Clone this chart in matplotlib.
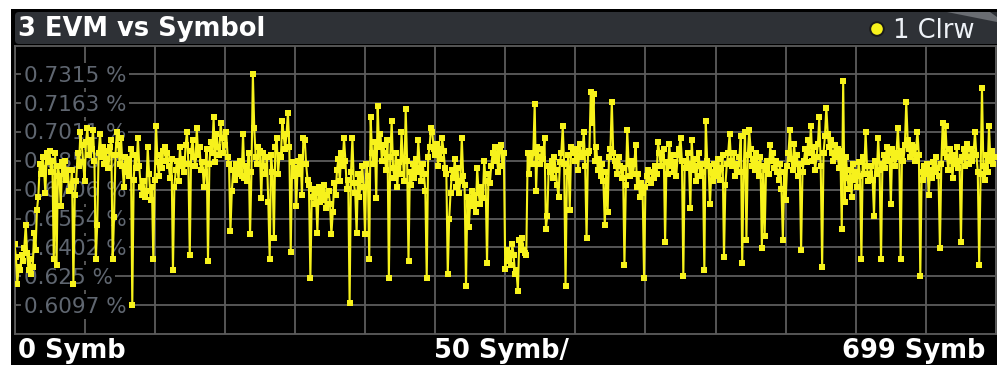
import matplotlib
matplotlib.use("Agg")
import matplotlib.pyplot as plt
import matplotlib.transforms as mtransforms
from matplotlib.patches import Rectangle, FancyBboxPatch, Circle, Polygon

# ---- chart data -------------------------------------------------------------
title = "3 EVM vs Symbol"
trace_label = "1 Clrw"
x_labels = ["0 Symb", "50 Symb/", "699 Symb"]
symbols_per_div = 50
n_divs = 14

y_tick_values = [0.6097, 0.6250, 0.6402, 0.6554, 0.6706, 0.6858, 0.7011, 0.7163, 0.7315]
y_tick_labels = ["0.6097 %", "0.625 %", "0.6402 %", "0.6554 %", "0.6706 %",
                 "0.6858 %", "0.7011 %", "0.7163 %", "0.7315 %"]
y_min, y_max = 0.59448, 0.74672

# EVM per symbol (percent), symbols 0..699
evm = [
    0.642, 0.635, 0.621, 0.630, 0.628, 0.636, 0.633, 0.640, 0.652, 0.637,
    0.628, 0.634, 0.626, 0.630, 0.648, 0.639, 0.660, 0.667, 0.684, 0.679,
    0.688, 0.682, 0.669, 0.690, 0.685, 0.691, 0.680, 0.686, 0.634, 0.690,
    0.631, 0.683, 0.678, 0.662, 0.685, 0.679, 0.686, 0.676, 0.681, 0.670,
    0.672, 0.681, 0.621, 0.668, 0.675, 0.690, 0.683, 0.701, 0.694, 0.685,
    0.675, 0.696, 0.703, 0.689, 0.697, 0.692, 0.702, 0.686, 0.634, 0.652,
    0.690, 0.700, 0.688, 0.693, 0.684, 0.691, 0.687, 0.682, 0.693, 0.697,
    0.634, 0.656, 0.689, 0.701, 0.694, 0.684, 0.698, 0.683, 0.672, 0.688,
    0.680, 0.687, 0.678, 0.692, 0.6097, 0.676, 0.689, 0.682, 0.698, 0.683,
    0.672, 0.668, 0.675, 0.667, 0.670, 0.693, 0.679, 0.665, 0.672, 0.634,
    0.676, 0.704, 0.685, 0.678, 0.689, 0.682, 0.691, 0.693, 0.686, 0.690,
    0.683, 0.677, 0.687, 0.628, 0.672, 0.681, 0.686, 0.675, 0.693, 0.683,
    0.687, 0.680, 0.694, 0.701, 0.684, 0.636, 0.691, 0.697, 0.688, 0.683,
    0.703, 0.689, 0.693, 0.681, 0.685, 0.672, 0.680, 0.692, 0.633, 0.684,
    0.696, 0.690, 0.709, 0.685, 0.700, 0.693, 0.689, 0.706, 0.698, 0.690,
    0.694, 0.701, 0.688, 0.684, 0.649, 0.670, 0.681, 0.676, 0.684, 0.679,
    0.682, 0.686, 0.678, 0.700, 0.677, 0.683, 0.675, 0.690, 0.647, 0.680,
    0.7315, 0.703, 0.688, 0.684, 0.693, 0.691, 0.666, 0.690, 0.683, 0.679,
    0.688, 0.664, 0.634, 0.689, 0.680, 0.645, 0.693, 0.698, 0.679, 0.689,
    0.688, 0.707, 0.699, 0.692, 0.700, 0.711, 0.693, 0.638, 0.685, 0.678,
    0.682, 0.662, 0.686, 0.679, 0.688, 0.668, 0.698, 0.697, 0.684, 0.676,
    0.673, 0.624, 0.667, 0.671, 0.663, 0.669, 0.648, 0.672, 0.664, 0.670,
    0.665, 0.673, 0.661, 0.668, 0.670, 0.663, 0.647, 0.659, 0.674, 0.668,
    0.681, 0.687, 0.675, 0.690, 0.683, 0.698, 0.686, 0.671, 0.676, 0.611,
    0.680, 0.698, 0.674, 0.669, 0.648, 0.679, 0.667, 0.676, 0.683, 0.672,
    0.647, 0.684, 0.678, 0.634, 0.709, 0.690, 0.684, 0.696, 0.666, 0.715,
    0.693, 0.700, 0.686, 0.694, 0.690, 0.681, 0.697, 0.624, 0.688, 0.707,
    0.682, 0.677, 0.690, 0.672, 0.685, 0.679, 0.701, 0.687, 0.675, 0.713,
    0.686, 0.633, 0.680, 0.673, 0.684, 0.677, 0.687, 0.680, 0.697, 0.682,
    0.675, 0.684, 0.679, 0.670, 0.624, 0.688, 0.693, 0.703, 0.701, 0.692,
    0.689, 0.695, 0.683, 0.692, 0.687, 0.698, 0.691, 0.682, 0.679, 0.626,
    0.655, 0.669, 0.681, 0.677, 0.687, 0.672, 0.682, 0.669, 0.675, 0.698,
    0.678, 0.673, 0.620, 0.667, 0.651, 0.664, 0.670, 0.662, 0.668, 0.659,
    0.682, 0.669, 0.663, 0.672, 0.666, 0.686, 0.675, 0.632, 0.679, 0.674,
    0.683, 0.690, 0.686, 0.693, 0.688, 0.680, 0.691, 0.694, 0.683, 0.690,
    0.629, 0.639, 0.633, 0.637, 0.631, 0.642, 0.636, 0.626, 0.628, 0.617,
    0.644, 0.641, 0.645, 0.639, 0.637, 0.636, 0.690, 0.679, 0.688, 0.684,
    0.690, 0.716, 0.670, 0.693, 0.688, 0.684, 0.692, 0.687, 0.698, 0.650,
    0.657, 0.683, 0.680, 0.686, 0.677, 0.688, 0.681, 0.673, 0.667, 0.685,
    0.690, 0.704, 0.684, 0.620, 0.680, 0.689, 0.660, 0.693, 0.690, 0.692,
    0.686, 0.692, 0.681, 0.695, 0.688, 0.690, 0.701, 0.683, 0.645, 0.690,
    0.691, 0.722, 0.706, 0.721, 0.686, 0.693, 0.681, 0.687, 0.678, 0.684,
    0.675, 0.652, 0.680, 0.659, 0.688, 0.692, 0.717, 0.690, 0.686, 0.683,
    0.679, 0.688, 0.683, 0.677, 0.682, 0.631, 0.673, 0.702, 0.684, 0.678,
    0.686, 0.679, 0.684, 0.694, 0.672, 0.679, 0.667, 0.674, 0.669, 0.624,
    0.672, 0.678, 0.681, 0.676, 0.674, 0.680, 0.677, 0.683, 0.679, 0.696,
    0.690, 0.683, 0.688, 0.692, 0.643, 0.685, 0.679, 0.695, 0.683, 0.689,
    0.680, 0.685, 0.678, 0.689, 0.692, 0.698, 0.686, 0.625, 0.686, 0.682,
    0.690, 0.684, 0.661, 0.697, 0.681, 0.687, 0.675, 0.683, 0.690, 0.678,
    0.684, 0.680, 0.628, 0.707, 0.686, 0.683, 0.663, 0.680, 0.675, 0.684,
    0.681, 0.678, 0.687, 0.676, 0.682, 0.689, 0.635, 0.673, 0.684, 0.690,
    0.700, 0.686, 0.683, 0.690, 0.678, 0.684, 0.680, 0.688, 0.699, 0.632,
    0.680, 0.701, 0.644, 0.689, 0.702, 0.692, 0.683, 0.687, 0.681, 0.690,
    0.684, 0.678, 0.688, 0.640, 0.683, 0.646, 0.681, 0.686, 0.679, 0.694,
    0.686, 0.690, 0.682, 0.686, 0.680, 0.676, 0.684, 0.671, 0.644, 0.680,
    0.665, 0.683, 0.690, 0.702, 0.687, 0.681, 0.695, 0.684, 0.689, 0.678,
    0.684, 0.639, 0.680, 0.686, 0.692, 0.685, 0.697, 0.690, 0.704, 0.686,
    0.693, 0.681, 0.688, 0.695, 0.709, 0.683, 0.630, 0.690, 0.699, 0.714,
    0.700, 0.693, 0.697, 0.690, 0.686, 0.694, 0.688, 0.692, 0.682, 0.691,
    0.650, 0.728, 0.664, 0.688, 0.677, 0.671, 0.681, 0.667, 0.684, 0.676,
    0.680, 0.672, 0.685, 0.678, 0.634, 0.688, 0.679, 0.701, 0.683, 0.675,
    0.679, 0.683, 0.676, 0.657, 0.686, 0.679, 0.698, 0.681, 0.634, 0.684,
    0.689, 0.682, 0.693, 0.686, 0.690, 0.663, 0.692, 0.687, 0.683, 0.690,
    0.703, 0.688, 0.634, 0.691, 0.686, 0.694, 0.717, 0.697, 0.692, 0.688,
    0.694, 0.690, 0.686, 0.693, 0.701, 0.689, 0.625, 0.680, 0.676, 0.683,
    0.679, 0.684, 0.668, 0.681, 0.677, 0.685, 0.680, 0.688, 0.682, 0.678,
    0.640, 0.684, 0.706, 0.690, 0.704, 0.688, 0.681, 0.692, 0.686, 0.677,
    0.689, 0.684, 0.693, 0.682, 0.686, 0.643, 0.688, 0.692, 0.683, 0.695,
    0.688, 0.684, 0.692, 0.686, 0.690, 0.701, 0.689, 0.680, 0.631, 0.679,
    0.7245, 0.683, 0.676, 0.689, 0.680, 0.704, 0.686, 0.691, 0.684, 0.688,
]
symbols = list(range(len(evm)))

# ---- colours ------------------------------------------------------------------
TRACE = "#f7f21c"
GRID = "#5c5c5c"
TITLE_BAR = "#2e3136"
YLABEL = "#5f6670"

# ---- figure: instrument window drawn in pixel coordinates --------------------
W, H = 997, 365
fig = plt.figure(figsize=(W / 100, H / 100), dpi=100, facecolor="white")

panel = fig.add_axes([0, 0, 1, 1], zorder=0)
panel.set_xlim(0, W)
panel.set_ylim(H, 0)
panel.axis("off")
panel.add_patch(Rectangle((11, 9), W - 11, H - 9, facecolor="black", edgecolor="none"))
panel.add_patch(FancyBboxPatch((15, 12), W - 10, 32,
                               boxstyle="round,pad=0,rounding_size=4",
                               facecolor=TITLE_BAR, edgecolor="none"))
# lighter window corner at the top right of the title bar
panel.add_patch(Polygon([(947, 12), (990, 12), (997, 17), (997, 22)],
                        closed=True, facecolor="#6a6d72", edgecolor="none"))

panel.text(18, 36.5, title, fontsize=18.5, fontweight="bold", color="white",
           ha="left", va="baseline", family="DejaVu Sans")
panel.add_patch(Circle((877, 29), 6.8, facecolor=TRACE, edgecolor="#1a1a1a", lw=1.4))
panel.text(893, 37.5, trace_label, fontsize=18.5, color="#eef2f7",
           ha="left", va="baseline", family="DejaVu Sans")

label_pos = [(18, "left"), (501, "center"), (985, "right")]
for (xp, ha), txt in zip(label_pos, x_labels):
    panel.text(xp, 358, txt, fontsize=18.5, fontweight="bold", color="white",
               ha=ha, va="baseline", family="DejaVu Sans")

# ---- trace area ----------------------------------------------------------------
left_px, right_px, top_px, bottom_px = 14.5, 996.0, 45.5, 334.0
ax = fig.add_axes([left_px / W, (H - bottom_px) / H,
                   (right_px - left_px) / W, (bottom_px - top_px) / H], zorder=1)
ax.set_facecolor("black")
ax.set_xlim(0, symbols_per_div * n_divs)
ax.set_ylim(y_min, y_max)
ax.set_xticks(range(0, symbols_per_div * n_divs + 1, symbols_per_div))
ax.set_yticks(y_tick_values)
ax.tick_params(length=0, labelleft=False, labelbottom=False)
ax.set_axisbelow(True)
ax.grid(True, color=GRID, lw=1.3)
for sp in ax.spines.values():
    sp.set_color(GRID)
    sp.set_linewidth(1.3)

# level labels sit on a black box over the grid, beneath the trace
lab_tr = mtransforms.blended_transform_factory(panel.transData, ax.transData) + \
    mtransforms.ScaledTranslation(0, -0.075, fig.dpi_scale_trans)
for v, s in zip(y_tick_values, y_tick_labels):
    ax.text(23.5, v, s, transform=lab_tr, fontsize=15.5, color=YLABEL,
            ha="left", va="baseline", zorder=3, family="DejaVu Sans",
            bbox=dict(boxstyle="square,pad=0.12", facecolor="black", edgecolor="none"))

ax.plot(symbols, evm, color=TRACE, lw=1.5, marker="s", markersize=3.8,
        markeredgewidth=0, zorder=4, clip_on=True)

fig.savefig("out.png", dpi=100, facecolor="white")
